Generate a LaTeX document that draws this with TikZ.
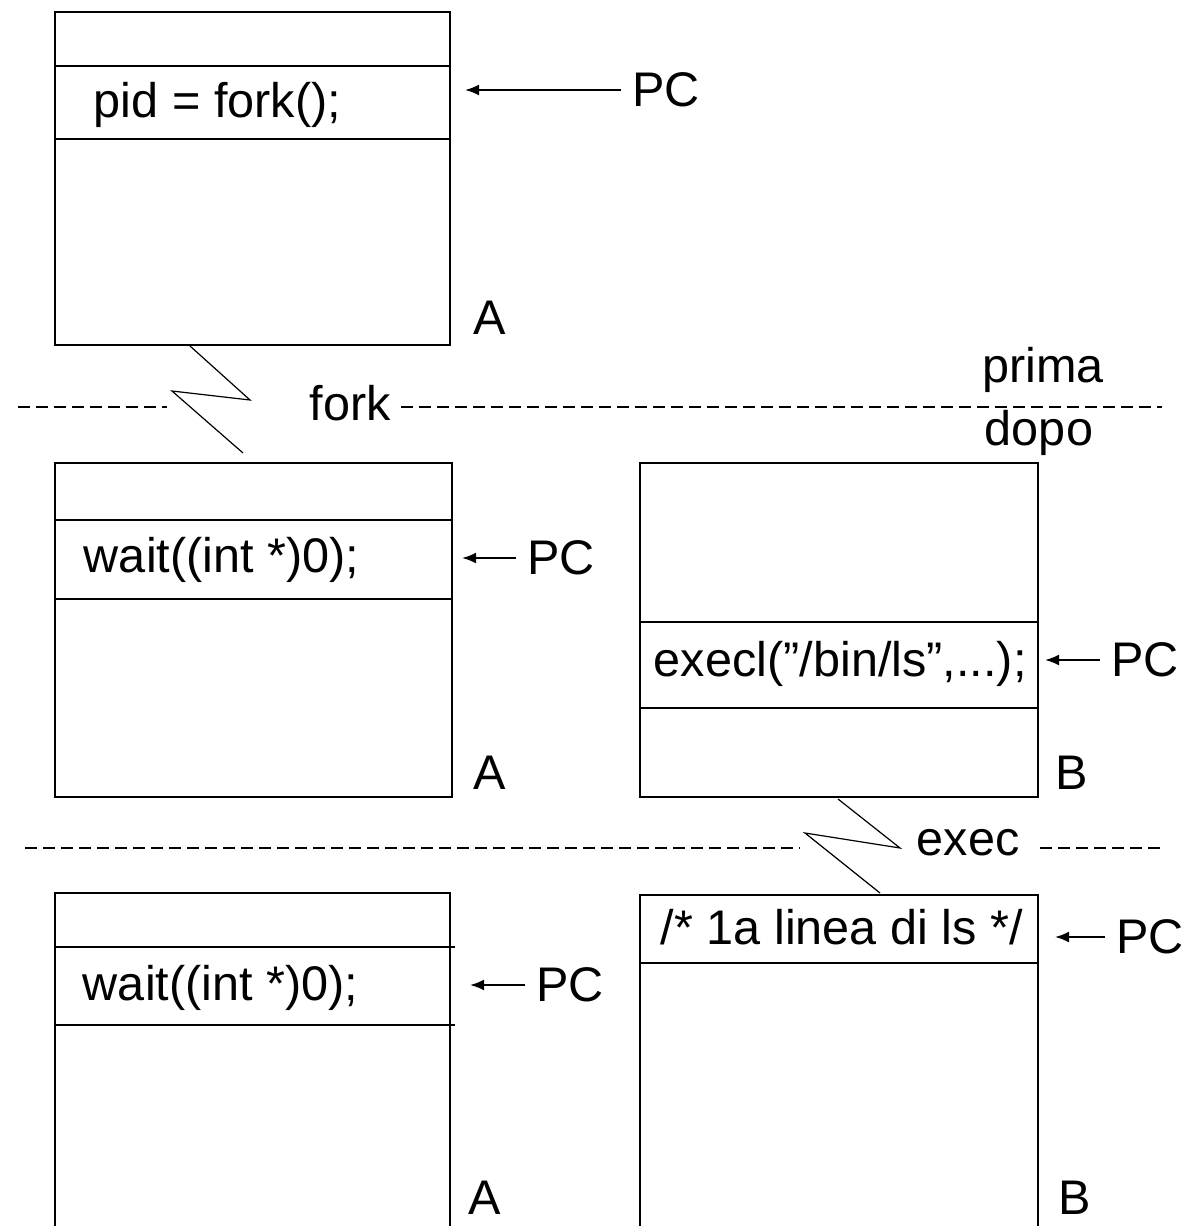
\documentclass[tikz,border=0pt]{standalone}
\usepackage{fontspec}
\setmainfont{Liberation Sans}
\usetikzlibrary{arrows.meta, positioning}

\begin{document}
\begin{tikzpicture}[x=0.5pt, y=-0.5pt, line width=0.9pt,
    every node/.style={font=\fontsize{24.3}{28}\selectfont, inner sep=0pt},
    code/.style={anchor=west},
    tag/.style={anchor=center},
    pc/.style={anchor=center, inner sep=5pt},
    pcarrow/.style={-{Latex[length=7pt, width=5.5pt]}, line width=1pt},
    sep/.style={dash pattern=on 6pt off 3pt, line width=0.7pt},
    zig/.style={line width=0.6pt}]

    \useasboundingbox (0,0) rectangle (1190,1226);

    % prima: processo A
    \draw (55,12) rectangle (450,345);
    \draw (55,66) -- (450,66) (55,139) -- (450,139);
    \node[code] (forkcall) at (93,105) {pid = fork();};
    \node[pc] (pcA) at (666,90) {PC};
    \coordinate (atA) at (465,90);
    \draw[pcarrow] (pcA) -- (atA);
    \node[tag] (labA) at (490,318) {A};

    % linea fork
    \node[tag] (forklab) at (350,403) {fork};
    \node[tag] (prima) at (1043,370) {prima};
    \node[tag] (dopo) at (1039,433) {dopo};
    \coordinate (f0) at (18,407);
    \coordinate (f1) at (167,407);
    \coordinate (f2) at (1162,407);
    \draw[sep] (f0) -- (f1);
    \draw[sep] ([xshift=5pt]forklab.east |- f2) -- (f2);
    \coordinate (z1) at (190,346);
    \coordinate (z2) at (250,400);
    \coordinate (z3) at (172,391);
    \coordinate (z4) at (243,453);
    \draw[zig] (z1) -- (z2) -- (z3) -- (z4);

    % dopo: processo A (padre)
    \draw (55,463) rectangle (452,797);
    \draw (55,520) -- (452,520) (55,599) -- (452,599);
    \node[code] (waitA) at (83,560) {wait((int *)0);};
    \node[pc] (pcA2) at (561,558) {PC};
    \coordinate (atA2) at (462,558);
    \draw[pcarrow] (pcA2) -- (atA2);
    \node[tag] (labA2) at (490,773) {A};

    % dopo: processo B (figlio)
    \draw (640,463) rectangle (1038,797);
    \draw (640,622) -- (1038,622) (640,708) -- (1038,708);
    \node[code] (execcall) at (653,664) {execl(”/bin/ls”,...);};
    \node[pc] (pcB) at (1145,660) {PC};
    \coordinate (atB) at (1045,660);
    \draw[pcarrow] (pcB) -- (atB);
    \node[tag] (labB) at (1072,773) {B};

    % linea exec
    \node[tag] (execlab) at (968,843) {exec};
    \coordinate (e0) at (25,848);
    \coordinate (e1) at (800,848);
    \coordinate (e2) at (1165,848);
    \draw[sep] (e0) -- (e1);
    \draw[sep] ([xshift=10pt]execlab.east |- e2) -- (e2);
    \coordinate (y1) at (838,799);
    \coordinate (y2) at (900,848);
    \coordinate (y3) at (805,833);
    \coordinate (y4) at (880,893);
    \draw[zig] (y1) -- (y2) -- (y3) -- (y4);

    % dopo la exec: processo A
    \draw (55,1240) -- (55,893) -- (450,893) -- (450,1240);
    \draw (55,947) -- (455,947) (55,1025) -- (455,1025);
    \node[code] (waitA3) at (82,988) {wait((int *)0);};
    \node[pc] (pcA3) at (570,985) {PC};
    \coordinate (atA3) at (470,985);
    \draw[pcarrow] (pcA3) -- (atA3);
    \node[tag] (labA3) at (485,1198) {A};

    % dopo la exec: processo B
    \draw (640,1240) -- (640,895) -- (1038,895) -- (1038,1240);
    \draw (640,963) -- (1038,963);
    \node[code] (lsline) at (660,927) {/* 1a linea di ls */};
    \node[pc] (pcB3) at (1150,937) {PC};
    \coordinate (atB3) at (1055,937);
    \draw[pcarrow] (pcB3) -- (atB3);
    \node[tag] (labB3) at (1075,1198) {B};
\end{tikzpicture}
\end{document}
